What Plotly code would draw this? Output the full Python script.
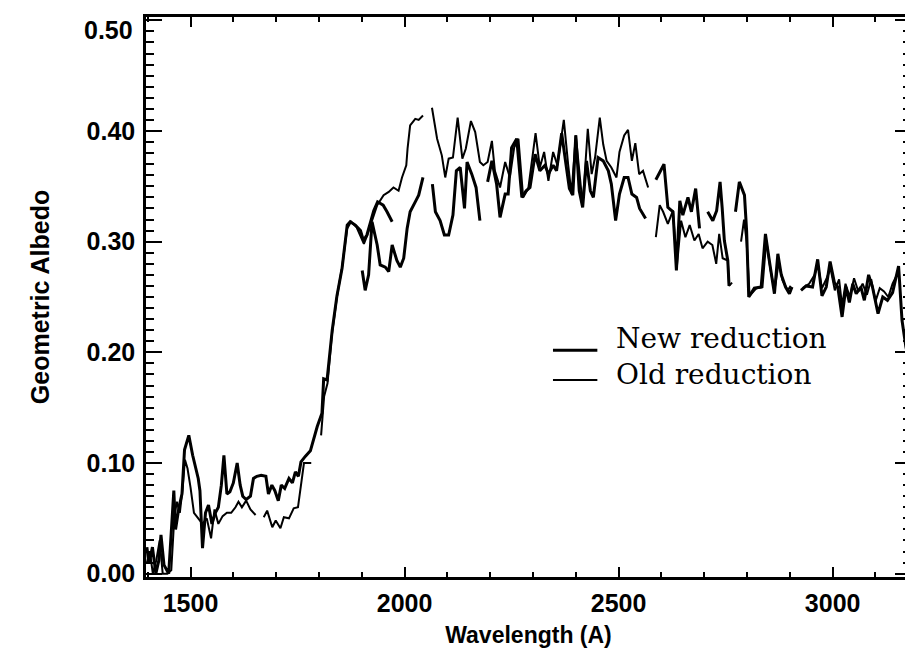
import plotly.graph_objects as go

# ---------------- data (wavelength in Angstrom, geometric albedo) ----------------
new_wl = [1398, 1403, 1411, 1419, 1426, 1431, 1438, 1449, 1461, 1465, 1473, 1480, 1486, 1496, 1505, 1512,
          1518, 1522, 1528, 1535, 1542, 1550, 1558, 1565, 1572, 1578, 1585, 1592, 1600, 1609, 1616, 1622,
          1630, 1640, 1647, 1655, 1665, 1676, 1682, 1690, 1697, 1705, 1712, 1720, 1730, 1738, 1745, 1752,
          1758, 1768, 1780, 1796, 1807, 1811, 1819, 1831, 1842, 1854, 1862, 1866, 1873, 1885, 1897, 1904,
          1912, 1920, 1928, 1937, 1950, 1959, 1971, None,
          1901, 1908, 1916, 1924, 1936, 1943, 1955, 1963, 1971, 1982, 1990, 1998, 2006, 2013, 2025, 2033,
          2043, None,
          2065, 2072, 2083, 2093, 2103, 2113, 2121, 2130, 2140, 2146, 2157, 2167, 2176, None,
          2194, 2204, 2215, 2223, 2235, 2242, 2250, 2262, 2274, 2284, 2293, 2305, 2316, 2328, 2336, 2347,
          2355, 2367, 2377, 2385, 2393, 2400, 2408, 2416, 2425, 2434, 2441, 2452, 2464, 2476, 2483, 2493,
          2502, 2513, 2522, 2531, 2542, 2549, 2563, None,
          2587, 2596, 2606, 2615, 2627, 2635, 2643, 2650, 2662, 2670, 2680, 2689, None,
          2708, 2720, 2729, 2737, 2742, 2747, 2755, 2758, None,
          2773, 2782, 2794, 2799, 2804, 2817, 2833, 2843, 2852, 2864, 2872, 2880, 2890, 2899, 2905, None,
          2926, 2938, 2953, 2965, 2975, 2985, 2994, 3004, 3012, 3022, 3031, 3039, 3047, 3055, 3066, 3074,
          3084, 3093, 3106, 3117, 3128, 3140, 3154, 3162, 3171, 3176]
new_alb = [0.024, 0.009, 0.024, 0.0, 0.012, 0.035, 0.008, 0.0, 0.075, 0.040, 0.060, 0.072, 0.112, 0.125, 0.107, 0.095,
           0.086, 0.075, 0.023, 0.055, 0.062, 0.045, 0.055, 0.060, 0.080, 0.107, 0.072, 0.074, 0.082, 0.100, 0.080, 0.070,
           0.067, 0.070, 0.086, 0.088, 0.089, 0.088, 0.072, 0.080, 0.075, 0.066, 0.080, 0.077, 0.086, 0.082, 0.092, 0.088,
           0.101, 0.106, 0.111, 0.133, 0.145, 0.176, 0.175, 0.220, 0.251, 0.276, 0.300, 0.315, 0.318, 0.315, 0.310, 0.301,
           0.306, 0.316, 0.328, 0.336, 0.333, 0.327, 0.318, None,
           0.274, 0.256, 0.270, 0.318, 0.297, 0.279, 0.277, 0.273, 0.297, 0.283, 0.277, 0.285, 0.312, 0.327, 0.336, 0.342,
           0.358, None,
           0.352, 0.327, 0.319, 0.306, 0.306, 0.324, 0.364, 0.367, 0.330, 0.372, 0.361, 0.349, 0.319, None,
           0.354, 0.373, 0.352, 0.322, 0.343, 0.343, 0.385, 0.393, 0.340, 0.346, 0.349, 0.379, 0.364, 0.369, 0.361, 0.369,
           0.364, 0.398, 0.370, 0.348, 0.342, 0.396, 0.346, 0.331, 0.373, 0.346, 0.340, 0.376, 0.373, 0.364, 0.352, 0.319,
           0.343, 0.358, 0.358, 0.343, 0.340, 0.330, 0.321, None,
           0.356, 0.362, 0.370, 0.331, 0.327, 0.274, 0.337, 0.324, 0.340, 0.327, 0.348, 0.312, None,
           0.327, 0.319, 0.328, 0.354, 0.330, 0.301, 0.283, 0.260, None,
           0.327, 0.354, 0.342, 0.310, 0.250, 0.258, 0.259, 0.307, 0.283, 0.253, 0.289, 0.270, 0.259, 0.253, 0.259, None,
           0.256, 0.260, 0.259, 0.284, 0.251, 0.259, 0.282, 0.263, 0.259, 0.232, 0.259, 0.245, 0.262, 0.253, 0.259, 0.247,
           0.270, 0.259, 0.235, 0.250, 0.247, 0.254, 0.278, 0.229, 0.205, 0.197]

old_wl = [1398, 1405, 1412, 1420, 1428, 1435, 1445, 1455, 1462, 1468, 1475, 1481, 1487, 1493, 1500, 1508,
          1518, 1528, 1538, 1548, 1556, 1565, 1575, 1585, 1595, 1605, 1612, 1620, 1630, 1640, 1652, None,
          1671, 1679, 1691, 1699, 1710, 1718, 1730, 1741, 1751, 1757, 1765, 1782, None,
          1805, 1812, 1820, 1830, 1842, 1854, 1866, 1875, 1888, 1898, 1905, 1912, 1924, 1936, 1951, 1963,
          1974, 1986, 1994, 2004, 2007, 2013, 2025, 2033, 2043, None,
          2064, 2076, 2087, 2095, 2103, 2113, 2124, 2135, 2143, 2155, 2165, 2176, 2184, 2194, 2204, 2211,
          2223, 2235, 2246, 2256, 2266, 2277, 2289, 2298, 2306, 2316, 2326, 2336, 2347, 2357, 2372, 2382,
          2390, 2400, 2409, 2416, 2428, 2437, 2445, 2456, 2464, 2472, 2483, 2495, 2502, 2513, 2522, 2531,
          2539, 2548, 2557, 2569, None,
          2587, 2596, 2604, 2615, 2627, 2636, 2646, 2656, 2666, 2677, 2687, 2696, 2708, 2719, 2728, 2735,
          2743, 2755, 2758, 2765, None,
          2786, 2793, 2799, 2806, 2822, 2836, 2845, 2855, 2864, 2874, 2883, 2895, 2902, None,
          2930, 2945, 2958, 2965, 2975, 2985, 2995, 3005, 3015, 3022, 3030, 3040, 3050, 3060, 3070, 3080,
          3090, 3100, 3110, 3120, 3130, 3140, 3150]
old_alb = [0.010, 0.020, 0.0, 0.012, 0.030, 0.0, 0.0, 0.003, 0.050, 0.065, 0.055, 0.075, 0.103, 0.095, 0.078, 0.055,
           0.050, 0.045, 0.050, 0.032, 0.058, 0.045, 0.052, 0.055, 0.055, 0.060, 0.065, 0.060, 0.066, 0.058, 0.053, None,
           0.051, 0.057, 0.042, 0.048, 0.041, 0.051, 0.050, 0.059, 0.060, 0.078, 0.100, 0.100, None,
           0.125, 0.160, 0.172, 0.215, 0.250, 0.277, 0.312, 0.318, 0.313, 0.305, 0.298, 0.305, 0.318, 0.333, 0.342, 0.345,
           0.349, 0.346, 0.358, 0.369, 0.384, 0.405, 0.411, 0.410, 0.414, None,
           0.421, 0.393, 0.378, 0.358, 0.375, 0.376, 0.412, 0.375, 0.384, 0.409, 0.399, 0.372, 0.369, 0.372, 0.391, 0.364,
           0.349, 0.372, 0.358, 0.385, 0.393, 0.340, 0.348, 0.373, 0.398, 0.367, 0.381, 0.355, 0.381, 0.369, 0.410, 0.370,
           0.343, 0.396, 0.361, 0.333, 0.402, 0.361, 0.376, 0.412, 0.388, 0.373, 0.367, 0.358, 0.381, 0.396, 0.401, 0.373,
           0.389, 0.361, 0.364, 0.349, None,
           0.304, 0.333, 0.327, 0.316, 0.328, 0.277, 0.319, 0.304, 0.315, 0.301, 0.307, 0.294, 0.300, 0.297, 0.280, 0.307,
           0.285, 0.283, 0.260, 0.263, None,
           0.300, 0.320, 0.300, 0.251, 0.258, 0.259, 0.301, 0.274, 0.256, 0.281, 0.265, 0.256, 0.260, None,
           0.258, 0.262, 0.270, 0.280, 0.258, 0.266, 0.276, 0.256, 0.266, 0.242, 0.262, 0.250, 0.267, 0.255, 0.262, 0.252,
           0.266, 0.246, 0.258, 0.255, 0.250, 0.262, 0.270]

x_tickvals = [1500, 2000, 2500, 3000]
y_tickvals = [0.0, 0.1, 0.2, 0.3, 0.4, 0.5]
y_ticktext = ["0.00", "0.10", "0.20", "0.30", "0.40", "0.50"]
legend_labels = ["New reduction", "Old reduction"]

# ---------------- figure ----------------
fig = go.Figure()
fig.add_trace(go.Scatter(x=new_wl, y=new_alb, mode="lines", name=legend_labels[0],
                         line=dict(color="black", width=3.0), connectgaps=False, showlegend=False))
fig.add_trace(go.Scatter(x=old_wl, y=old_alb, mode="lines", name=legend_labels[1],
                         line=dict(color="black", width=2.0), connectgaps=False, showlegend=False))

sans = "Liberation Sans, Arial, sans-serif"
axfont = dict(family=sans, size=25, color="black", weight="bold")

# the top label would be clipped at the page edge, so it is drawn a little lower as an annotation
shown_ticktext = y_ticktext[:-1] + [""]

# the page body adds an 8 px offset; margins compensate so the plot box sits at 146..911 x 17..577
fig.update_layout(
    width=913, height=663,
    margin=dict(l=138, r=10, t=9, b=94, autoexpand=False),
    paper_bgcolor="white", plot_bgcolor="white",
    showlegend=False,
    xaxis=dict(
        range=[1396, 3183], tickvals=x_tickvals, ticks="inside", ticklen=10, tickwidth=2,
        tickcolor="black", showline=True, linewidth=2.5, linecolor="black", mirror="allticks",
        showgrid=False, zeroline=False, tickfont=axfont, ticklabelstandoff=2, automargin=False,
        ticklabeloverflow="allow",
        minor=dict(dtick=100, tick0=1400, ticks="inside", ticklen=5, tickwidth=1.5, tickcolor="black", showgrid=False),
        title=dict(text="Wavelength (A)", font=dict(family=sans, size=23, color="black", weight="bold"),
                   standoff=12),
    ),
    yaxis=dict(
        range=[-0.003, 0.503], tickvals=y_tickvals, ticktext=shown_ticktext, ticks="inside", ticklen=16,
        tickwidth=2, tickcolor="black", showline=True, linewidth=2.5, linecolor="black", mirror="allticks",
        showgrid=False, zeroline=False, tickfont=axfont, ticklabelstandoff=3, automargin=False,
        ticklabeloverflow="allow",
        minor=dict(dtick=0.01, tick0=0, ticks="inside", ticklen=8, tickwidth=1.5, tickcolor="black", showgrid=False),
        title=dict(text="Geometric Albedo", font=dict(family=sans, size=25, color="black", weight="bold"),
                   standoff=30),
    ),
)

fig.add_annotation(xref="paper", yref="paper", x=-0.015, y=0.977, text=y_ticktext[-1], showarrow=False,
                   xanchor="right", yanchor="middle", font=axfont)

# legend drawn as line samples + text (one text block, two lines)
fig.add_shape(type="line", xref="paper", yref="paper", x0=0.532, x1=0.590, y0=0.405, y1=0.405,
              line=dict(color="black", width=3.0))
fig.add_shape(type="line", xref="paper", yref="paper", x0=0.532, x1=0.590, y0=0.352, y1=0.352,
              line=dict(color="black", width=2.0))
fig.add_annotation(xref="paper", yref="paper", x=0.612, y=0.394, text="<br>".join(legend_labels),
                   showarrow=False, xanchor="left", yanchor="middle", align="left",
                   font=dict(family="DejaVu Serif, serif", size=28, color="black"))

fig.write_html("out.html")
